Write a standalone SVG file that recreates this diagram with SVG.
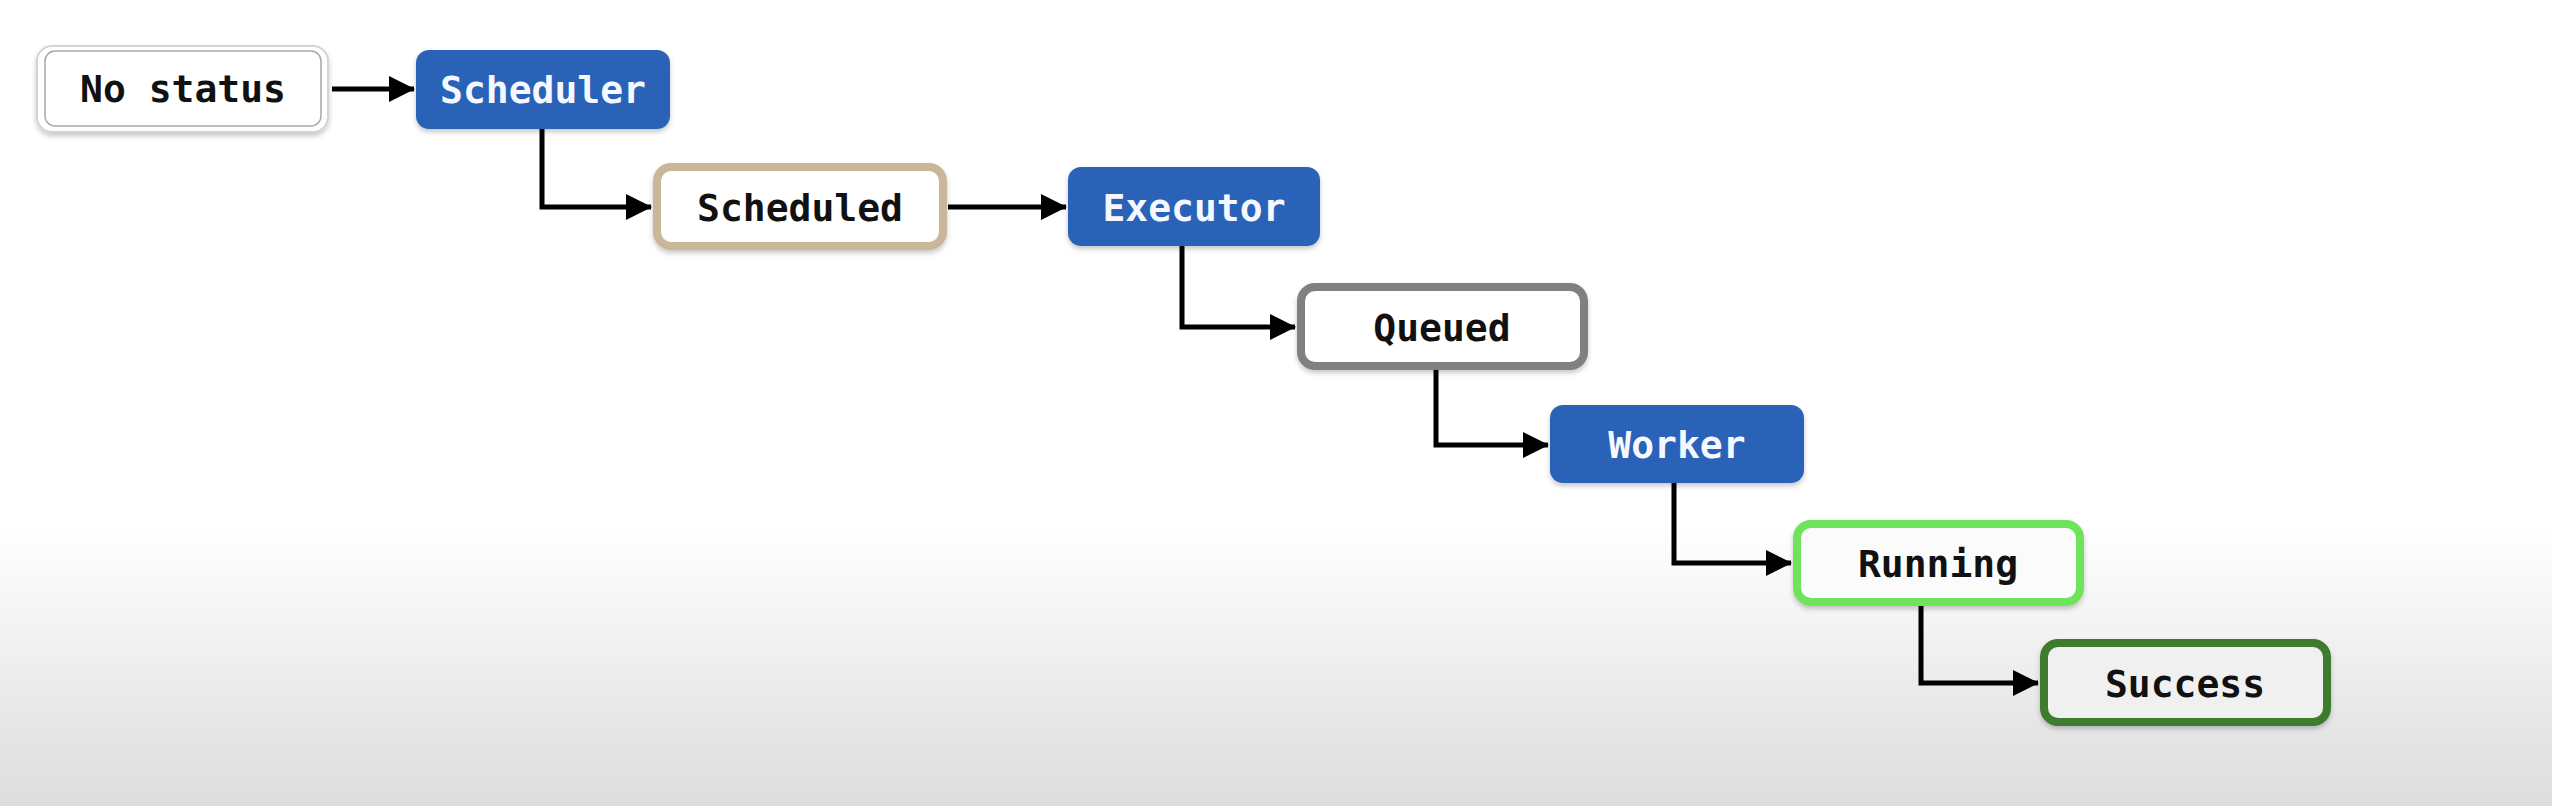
<svg xmlns="http://www.w3.org/2000/svg" width="2552" height="806" viewBox="0 0 2552 806">
  <defs>
    <linearGradient id="bg" x1="0" y1="0" x2="0" y2="806" gradientUnits="userSpaceOnUse">
      <stop offset="0" stop-color="#ffffff"/>
      <stop offset="0.65" stop-color="#ffffff"/>
      <stop offset="0.78" stop-color="#f3f3f3"/>
      <stop offset="0.88" stop-color="#e8e8e8"/>
      <stop offset="1" stop-color="#dddddd"/>
    </linearGradient>
    <filter id="shadow" x="-10%" y="-20%" width="120%" height="150%">
      <feDropShadow dx="0" dy="3" stdDeviation="2.5" flood-color="#000000" flood-opacity="0.22"/>
    </filter>
    <marker id="arrow" markerUnits="userSpaceOnUse" markerWidth="26" markerHeight="26" refX="25" refY="13" orient="auto">
      <path d="M0,0 L26,13 L0,26 z" fill="#000000"/>
    </marker>
    <style>
      .lbl { font-family: "DejaVu Sans Mono", "Liberation Mono", monospace; font-weight: bold; font-size: 38px; text-anchor: middle; }
      .dark { fill: #111111; }
      .light { fill: #f5f9ff; }
      .blue { fill: #2c62b7; filter: url(#shadow); }
      .state { fill: #ffffff; stroke-width: 8; filter: url(#shadow); }
      .conn { fill: none; stroke: #000000; stroke-width: 5; marker-end: url(#arrow); }
    </style>
  </defs>

  <rect x="0" y="0" width="2552" height="806" fill="url(#bg)"/>

  <g id="connectors">
    <path class="conn" d="M332,89 H414"/>
    <path class="conn" d="M542,129 V207 H651"/>
    <path class="conn" d="M948,207 H1066"/>
    <path class="conn" d="M1182,246 V327 H1295"/>
    <path class="conn" d="M1436,370 V445 H1548"/>
    <path class="conn" d="M1674,483 V563 H1791"/>
    <path class="conn" d="M1921,606 V683 H2038"/>
  </g>

  <g id="node-no-status">
    <rect x="37" y="46" width="291" height="86" rx="15" fill="#ffffff" stroke="#d4d4d4" stroke-width="2" filter="url(#shadow)"/>
    <rect x="45" y="51" width="276" height="75" rx="10" fill="#ffffff" stroke="#a8a8a8" stroke-width="1.5"/>
    <text class="lbl dark" x="183" y="102">No status</text>
  </g>

  <g id="node-scheduler">
    <rect class="blue" x="416" y="50" width="254" height="79" rx="13"/>
    <text class="lbl light" x="543" y="103">Scheduler</text>
  </g>

  <g id="node-scheduled">
    <rect class="state" x="657" y="167" width="286" height="79" rx="14" stroke="#c8b799"/>
    <text class="lbl dark" x="800" y="221">Scheduled</text>
  </g>

  <g id="node-executor">
    <rect class="blue" x="1068" y="167" width="252" height="79" rx="13"/>
    <text class="lbl light" x="1194" y="221">Executor</text>
  </g>

  <g id="node-queued">
    <rect class="state" x="1301" y="287" width="283" height="79" rx="14" stroke="#808080" stroke-width="7"/>
    <text class="lbl dark" x="1442" y="341">Queued</text>
  </g>

  <g id="node-worker">
    <rect class="blue" x="1550" y="405" width="254" height="78" rx="13"/>
    <text class="lbl light" x="1677" y="458">Worker</text>
  </g>

  <g id="node-running">
    <rect class="state" x="1797" y="524" width="283" height="78" rx="14" stroke="#6fe35b" style="fill:#fbfbfb"/>
    <text class="lbl dark" x="1938" y="577">Running</text>
  </g>

  <g id="node-success">
    <rect class="state" x="2044" y="643" width="283" height="79" rx="14" stroke="#3e7b2d" style="fill:#f0f0f0"/>
    <text class="lbl dark" x="2185" y="697">Success</text>
  </g>
</svg>
